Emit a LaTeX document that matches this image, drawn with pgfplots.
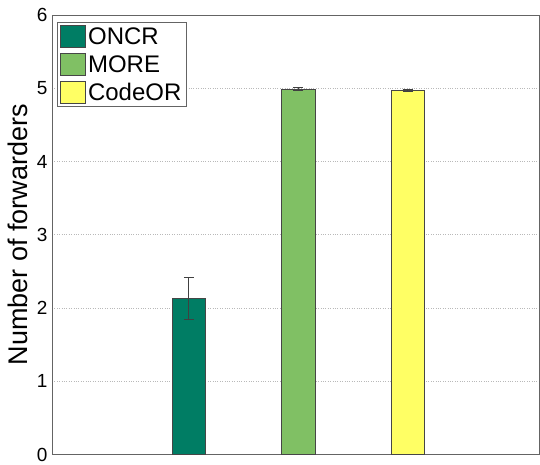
\documentclass[border=0pt]{standalone}
\usepackage{pgfplots}
\pgfplotsset{compat=1.18}
\usepackage{fontspec}
\setmainfont{Liberation Sans}

\definecolor{oncr}{RGB}{0,125,100}
\definecolor{more}{RGB}{128,192,100}
\definecolor{codeor}{RGB}{255,255,100}
\definecolor{axisgray}{RGB}{100,100,100}
\definecolor{edgegray}{RGB}{70,70,70}

\begin{document}
\begin{tikzpicture}
\begin{axis}[
  at={(0pt,0pt)}, anchor=south west,
  scale only axis,
  width=488pt, height=440pt,
  xmin=-0.251, xmax=4.205,
  ymin=0, ymax=6,
  ytick={0,1,2,3,4,5,6},
  xtick=\empty,
  major tick length=0pt,
  ymajorgrids,
  grid style={dotted, gray!55, line width=0.7pt},
  axis line style={axisgray, line width=0.9pt},
  every tick label/.append style={font=\fontsize{19}{19}\selectfont},
  /pgf/number format/assume math mode=true,
  yticklabel style={xshift=-1pt},
  ylabel={Number of forwarders},
  ylabel style={font=\fontsize{27}{27}\selectfont,
    at={(axis description cs:-0.0697,0.5)}, anchor=center},
  ybar, bar width=0.305, bar shift=0pt,
  error bars/error bar style={black!75, line width=0.8pt},
  error bars/error mark options={rotate=90, mark size=5pt, line width=0.8pt, black!75},
  legend style={
    at={(axis description cs:0.0102,0.984)}, anchor=north west,
    draw=axisgray, line width=0.8pt,
    font=\fontsize{24}{26}\selectfont,
    inner xsep=3pt, inner ysep=3pt,
    row sep=5pt,
    legend cell align=left,
  },
  legend image code/.code={\draw[#1, line width=0.8pt] (0pt,-11pt) rectangle (25pt,11pt);},
]
\addplot[fill=oncr, draw=edgegray, line width=0.8pt,
  error bars/.cd, y dir=both, y explicit]
  coordinates {(1,2.13) +- (0,0.29)};
\addplot[fill=more, draw=edgegray, line width=0.8pt,
  error bars/.cd, y dir=both, y explicit]
  coordinates {(2,4.99) +- (0,0.02)};
\addplot[fill=codeor, draw=edgegray, line width=0.8pt,
  error bars/.cd, y dir=both, y explicit]
  coordinates {(3,4.975) +- (0,0.015)};
\legend{ONCR, MORE, CodeOR}
\end{axis}
\path[use as bounding box] (-52pt,-9pt) rectangle (488pt,455pt);
\end{tikzpicture}
\end{document}
